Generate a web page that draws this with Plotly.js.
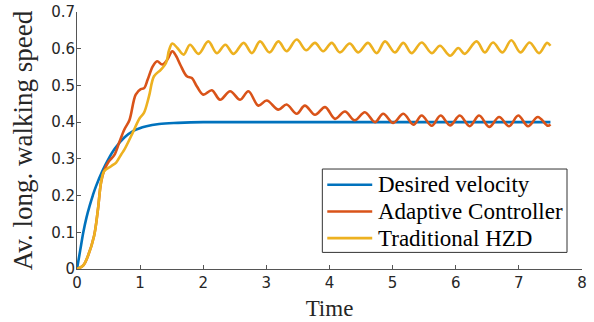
<!DOCTYPE html>
<html>
<head>
<meta charset="utf-8">
<script src="https://cdn.plot.ly/plotly-3.0.1.min.js"></script>
<style>html,body{margin:0;padding:0;background:#fff;}#chart{width:594px;height:322px;}</style>
</head>
<body>
<div id="chart"></div>
<script>
// Desired velocity
const tDesired = [0,0.05,0.1,0.15,0.2,0.25,0.3,0.4,0.5,0.6,0.75,0.9,1.1,1.3,1.6,2,2.5,3,4,5,6,7,7.5];
const vDesired = [0,0.05,0.1,0.14,0.172,0.2,0.225,0.266,0.3,0.328,0.358,0.377,0.389,0.395,0.398,0.4,0.4,0.4,0.4,0.4,0.4,0.4,0.4];

// Adaptive Controller
const tAdaptive = [0,0.1,0.17,0.27,0.33,0.38,0.43,0.5,0.59,0.67,0.75,0.83,0.93,1.01,1.06,1.12,1.2,1.27,1.35,1.43,1.51,1.57,1.64,1.74,1.82,1.9,2.0,
  2.136,2.267,2.426,2.584,2.715,2.873,3.006,3.19,3.32,3.48,3.61,3.77,3.93,4.087,4.245,4.40,4.56,4.72,4.85,5.01,5.17,5.33,5.46,5.62,5.76,5.91,6.065,6.22,6.37,6.53,6.687,6.845,6.99,7.145,7.30,7.46,7.5];
const vAdaptive = [0,0.01,0.034,0.09,0.16,0.235,0.268,0.292,0.31,0.345,0.38,0.405,0.475,0.49,0.492,0.516,0.552,0.566,0.557,0.57,0.593,0.58,0.555,0.525,0.52,0.497,0.475,
  0.487,0.461,0.484,0.461,0.484,0.445,0.459,0.434,0.448,0.423,0.445,0.42,0.441,0.409,0.429,0.405,0.427,0.400,0.423,0.398,0.423,0.393,0.418,0.390,0.418,0.391,0.418,0.389,0.418,0.387,0.414,0.389,0.418,0.389,0.414,0.390,0.394];

// Traditional HZD
const tHZD = [0,0.1,0.17,0.27,0.33,0.38,0.43,0.54,0.62,0.70,0.75,0.88,0.99,1.06,1.14,1.22,1.33,1.41,1.46,1.51,1.59,1.69,1.79,1.925,2.08,2.215,2.35,2.48,2.64,2.77,2.90,3.05,3.19,3.32,3.48,3.63,3.77,3.90,4.035,4.166,4.32,4.456,4.61,4.747,4.88,5.036,5.17,5.30,5.46,5.62,5.75,5.91,6.04,6.14,6.33,6.46,6.59,6.74,6.88,7.025,7.17,7.32,7.446,7.5];
const vHZD = [0,0.01,0.034,0.089,0.16,0.234,0.266,0.28,0.29,0.312,0.325,0.37,0.41,0.425,0.47,0.525,0.543,0.561,0.597,0.614,0.602,0.584,0.611,0.586,0.620,0.588,0.611,0.586,0.616,0.588,0.620,0.590,0.620,0.593,0.625,0.596,0.616,0.593,0.616,0.590,0.614,0.590,0.616,0.588,0.620,0.590,0.616,0.588,0.617,0.588,0.608,0.581,0.602,0.586,0.620,0.590,0.617,0.590,0.623,0.590,0.617,0.588,0.616,0.608];

const seriesNames = ['Desired velocity','Adaptive Controller','Traditional HZD'];
const seriesColors = ['#0072BD','#D95319','#EDB120'];

const xs = [tDesired,tAdaptive,tHZD];
const ys = [vDesired,vAdaptive,vHZD];
const traces = seriesNames.map((n,i)=>({
  x: xs[i], y: ys[i], name: n, type:'scatter', mode:'lines',
  line:{color:seriesColors[i], width:2.6, shape:'spline', smoothing:1}
}));

const serif = 'Liberation Serif, Times New Roman, serif';
const axisCommon = {
  showgrid:false, zeroline:false, showline:true, linecolor:'#555', linewidth:1,
  ticks:'inside', ticklen:4, tickcolor:'#555', tickwidth:1,
  tickfont:{family:'DejaVu Sans, sans-serif', size:15, color:'#262626'},
  automargin:false
};

// Legend box built from layout shapes + annotations (paper coordinates)
const legBox = {x0:0.4858, x1:0.9703, y0:0.0646, y1:0.389};
const legRowY = [0.328, 0.224, 0.120];
const legLineX = [0.4956, 0.5846];
const legTextX = 0.5933;
const shapes = [{type:'rect', xref:'paper', yref:'paper', x0:legBox.x0, x1:legBox.x1, y0:legBox.y0, y1:legBox.y1,
  line:{color:'#333', width:1}, fillcolor:'#fff', layer:'above'}];
const annotations = [];
seriesNames.forEach((n,i)=>{
  shapes.push({type:'line', xref:'paper', yref:'paper', x0:legLineX[0], x1:legLineX[1], y0:legRowY[i], y1:legRowY[i],
    line:{color:seriesColors[i], width:2.6}, layer:'above'});
  annotations.push({xref:'paper', yref:'paper', x:legTextX, y:legRowY[i], xanchor:'left', yanchor:'middle',
    text:n, showarrow:false, font:{family:serif, size:23, color:'#000'}, borderpad:0});
});

const layout = {
  width:594, height:322,
  margin:{l:77, r:12, t:12, b:53},
  paper_bgcolor:'#fff', plot_bgcolor:'#fff',
  showlegend:false,
  xaxis: Object.assign({}, axisCommon, {range:[0,8], dtick:1, tick0:0,
    title:{text:'Time', font:{family:serif, size:23, color:'#262626'}, standoff:8}}),
  yaxis: Object.assign({}, axisCommon, {range:[0,0.7], dtick:0.1, tick0:0, ticklabelstandoff:-2,
    title:{text:'Av. long. walking speed', font:{family:serif, size:27, color:'#262626'}, standoff:10}}),
  shapes: shapes,
  annotations: annotations
};
Plotly.newPlot('chart', traces, layout, {displayModeBar:false, staticPlot:true});
</script>
</body>
</html>
